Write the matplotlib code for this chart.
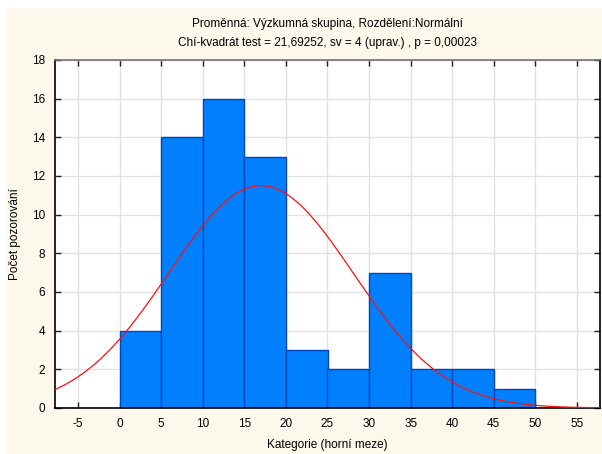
import numpy as np
import matplotlib
matplotlib.use("Agg")
import matplotlib.pyplot as plt
from matplotlib.patches import Rectangle

# histogram: upper class limits and counts
bin_edges = [0, 5, 10, 15, 20, 25, 30, 35, 40, 45, 50]
counts = [4, 14, 16, 13, 3, 2, 7, 2, 2, 1]

# fitted normal (peak ~11.5 at ~17)
fit_mean = 17.0
fit_sd = 11.1
n_obs = sum(counts)
bin_width = 5

x_ticks = [-5, 0, 5, 10, 15, 20, 25, 30, 35, 40, 45, 50, 55]
y_ticks = [0, 2, 4, 6, 8, 10, 12, 14, 16, 18]

title = ("Proměnná: Výzkumná skupina, Rozdělení:Normální\n"
         "Chí-kvadrát test = 21,69252, sv = 4 (uprav.) , p = 0,00023")

plt.rcParams["font.family"] = ["Liberation Sans", "DejaVu Sans"]
plt.rcParams["font.size"] = 8
plt.rcParams["axes.unicode_minus"] = False

fig = plt.figure(figsize=(6.02, 4.54), dpi=100)
fig.patch.set_facecolor("white")
fig.patches.append(Rectangle((6 / 602, 0), 1 - 6 / 602, 1 - 8 / 454,
                             transform=fig.transFigure, facecolor="#fdf8ec",
                             edgecolor="none", zorder=-10))

ax = fig.add_axes([55 / 602, 46 / 454, 545 / 602, 348 / 454])
ax.set_facecolor("white")

ax.bar(bin_edges[:-1], counts, width=np.diff(bin_edges), align="edge",
       color="#0080ff", edgecolor="#0046b8", linewidth=1.0, zorder=2)

xs = np.linspace(-7.8, 57.8, 400)
ys = n_obs * bin_width * np.exp(-0.5 * ((xs - fit_mean) / fit_sd) ** 2) / (fit_sd * np.sqrt(2 * np.pi))
ax.plot(xs, ys, color="#ff1010", linewidth=0.9, zorder=3)

ax.set_xlim(-7.77, 57.77)
ax.set_ylim(0, 18)
ax.set_xticks(x_ticks)
ax.set_yticks(y_ticks)
ax.grid(True, color="#e2e2e2", linewidth=1.0, zorder=0)
ax.set_axisbelow(True)
ax.tick_params(direction="in", top=True, right=True, length=4, width=1,
               labelsize=8.5, pad=7, colors="#222222", labelcolor="black")

for side in ["left", "right", "bottom"]:
    ax.spines[side].set_color("black")
    ax.spines[side].set_linewidth(1.2)
ax.spines["top"].set_color("#707070")
ax.spines["top"].set_linewidth(1.2)

ax.set_title(title, fontsize=8.5, linespacing=1.75, pad=10)
ax.set_xlabel("Kategorie (horní meze)", fontsize=8.5, labelpad=7)
ax.set_ylabel("Počet pozorování", fontsize=8.5, labelpad=8)

fig.savefig("out.png", dpi=100, facecolor=fig.get_facecolor())
